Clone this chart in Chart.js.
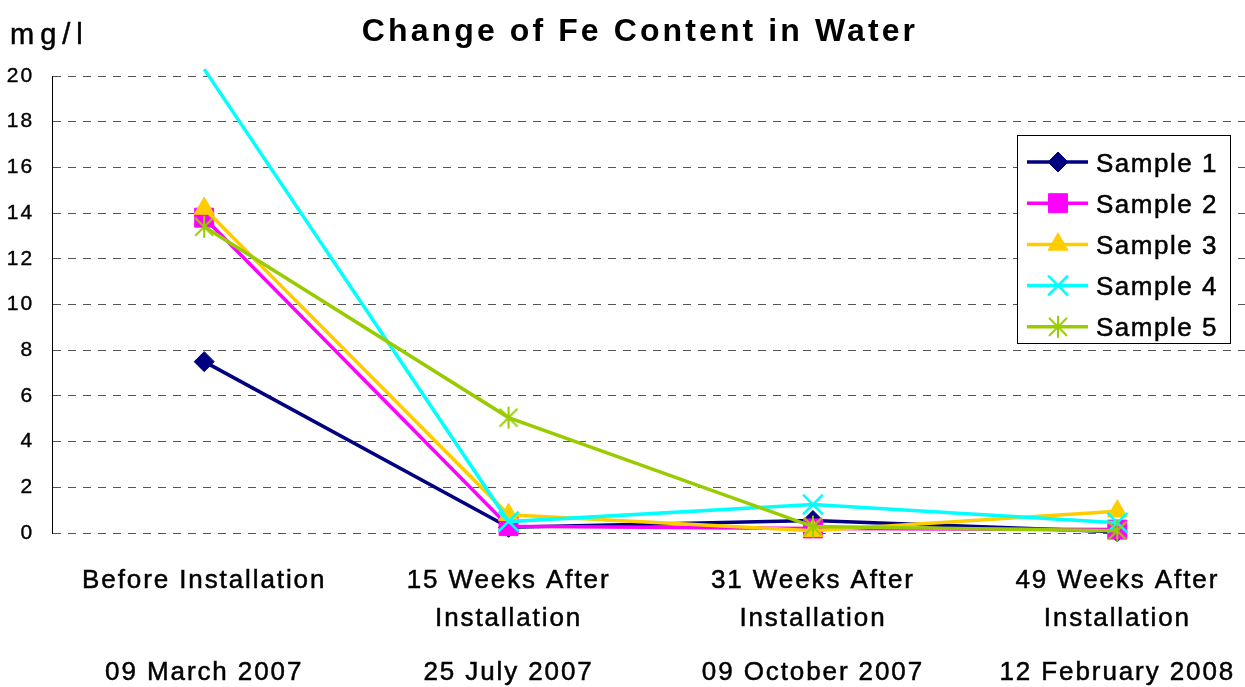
<!DOCTYPE html>
<html><head><meta charset="utf-8">
<script src="https://cdn.jsdelivr.net/npm/chart.js@4/dist/chart.umd.min.js"></script>
<style>
html,body{margin:0;padding:0;background:#fff;overflow:hidden;}
#wrap{width:1245px;height:687px;overflow:hidden;position:relative;background:#fff;}
canvas{display:block;}
</style></head><body>
<div id="wrap"><canvas id="c" width="1286" height="687"></canvas></div>
<script>
// ---- data ----
const categories = [["Before Installation"], ["15 Weeks After", "Installation"], ["31 Weeks After", "Installation"], ["49 Weeks After", "Installation"]];
const dates = ["09 March 2007", "25 July 2007", "09 October 2007", "12 February 2008"];
const seriesNames = ["Sample 1", "Sample 2", "Sample 3", "Sample 4", "Sample 5"];
const sample1 = [7.5, 0.25, 0.55, 0.05];
const sample2 = [13.8, 0.3, 0.2, 0.15];
const sample3 = [14.2, 0.8, 0.1, 0.95];
const sample4 = [20.3, 0.5, 1.25, 0.45];
const sample5 = [13.4, 5.05, 0.28, 0.1];
const yTickValues = [0, 2, 4, 6, 8, 10, 12, 14, 16, 18, 20];
const titleText = "Change of Fe Content in Water";
const unitText = "mg/l";

// ---- styles ----
const FONT = "'Liberation Sans', Arial, sans-serif";
const Y_MAX = 20;
const colors = ["#000080", "#FF00FF", "#FFCC00", "#00FFFF", "#99CC00"];

function makeAsterisk(color) {
  const c = document.createElement('canvas');
  c.width = 22; c.height = 24;
  const x = c.getContext('2d');
  x.strokeStyle = color; x.lineWidth = 2;
  x.beginPath();
  x.moveTo(11, 1); x.lineTo(11, 23);
  x.moveTo(2, 3); x.lineTo(20, 21);
  x.moveTo(20, 3); x.lineTo(2, 21);
  x.stroke();
  return c;
}
const pointStyles = ["rectRot", "rect", "triangle", "crossRot", makeAsterisk(colors[4])];
const pointRadii = [10, 13.4, 11.5, 14, 11];
const pointBorders = [1, 1, 1, 2.5, 1];
const seriesData = [sample1, sample2, sample3, sample4, sample5];

const datasets = seriesData.map((d, i) => ({
  label: seriesNames[i],
  data: d,
  borderColor: colors[i],
  backgroundColor: colors[i],
  pointBackgroundColor: colors[i],
  pointBorderColor: colors[i],
  borderWidth: 3.5,
  pointStyle: pointStyles[i],
  pointRadius: ctx => (ctx.raw > Y_MAX ? 0 : pointRadii[i]),
  pointHoverRadius: ctx => (ctx.raw > Y_MAX ? 0 : pointRadii[i]),
  pointBorderWidth: pointBorders[i],
  tension: 0,
  order: 4 - i,
  clip: 12
}));

function legendPoint(ctx, style, radius, bw, color, x, y) {
  ctx.fillStyle = color; ctx.strokeStyle = color; ctx.lineWidth = bw;
  if (Chart.helpers && Chart.helpers.drawPoint) {
    Chart.helpers.drawPoint(ctx, {pointStyle: style, radius: radius, borderWidth: bw, rotation: 0}, x, y);
  }
}

function heavyText(ctx, text, x, y, w) {
  ctx.lineWidth = w;
  ctx.strokeStyle = '#000';
  ctx.fillText(text, x, y);
  ctx.strokeText(text, x, y);
}

const decorPlugin = {
  id: 'decor',
  beforeDraw(chart) {
    chart.ctx.letterSpacing = '1.9px';
  },
  afterDraw(chart) {
    const ctx = chart.ctx;
    ctx.save();
    // title
    ctx.fillStyle = '#000';
    ctx.letterSpacing = '3.1px';
    ctx.font = "bold 32px " + FONT;
    ctx.textAlign = 'center';
    ctx.textBaseline = 'alphabetic';
    ctx.fillText(titleText, 640, 41);
    // unit
    ctx.letterSpacing = '6px';
    ctx.font = "29px " + FONT;
    ctx.textAlign = 'left';
    heavyText(ctx, unitText, 10, 44, 0.5);
    // legend
    const bx = 1017, by = 135, bw = 213, bh = 208;
    ctx.fillStyle = '#fff';
    ctx.fillRect(bx, by, bw, bh);
    ctx.strokeStyle = '#000'; ctx.lineWidth = 1;
    ctx.strokeRect(bx + 0.5, by + 0.5, bw, bh);
    ctx.letterSpacing = '1.5px';
    ctx.font = "26px " + FONT;
    chart.data.datasets.forEach((ds, i) => {
      const y = 162 + i * 41.2;
      ctx.save();
      ctx.strokeStyle = ds.borderColor; ctx.lineWidth = 3.5;
      ctx.beginPath(); ctx.moveTo(1027, y); ctx.lineTo(1088, y); ctx.stroke();
      legendPoint(ctx, ds.pointStyle, pointRadii[i], pointBorders[i], ds.borderColor, 1058, y);
      ctx.restore();
      ctx.fillStyle = '#000';
      ctx.textAlign = 'left';
      ctx.textBaseline = 'alphabetic';
      heavyText(ctx, ds.label, 1096, y + 9.5, 0.5);
    });
    ctx.restore();
  }
};

Chart.defaults.font.family = FONT;
Chart.defaults.color = '#000';

new Chart(document.getElementById('c'), {
  type: 'line',
  data: { labels: categories, datasets: datasets },
  options: {
    responsive: false,
    animation: false,
    devicePixelRatio: 1,
    layout: { padding: { top: 76, left: 0, right: 5, bottom: 0 } },
    plugins: { legend: { display: false }, title: { display: false }, tooltip: { enabled: false } },
    scales: {
      x: {
        type: 'category',
        position: 'bottom',
        offset: true,
        weight: 0,
        grid: { display: false, drawTicks: false, offset: true },
        border: { display: false },
        ticks: { autoSkip: false, maxRotation: 0, minRotation: 0, padding: 29, color: '#000',
                 textStrokeColor: '#000', textStrokeWidth: 0.5,
                 font: { size: 26, lineHeight: '38px' } },
        afterFit(s) { s.height = 103; }
      },
      x2: {
        type: 'category',
        position: 'bottom',
        offset: true,
        weight: 1,
        labels: dates,
        grid: { display: false, drawTicks: false, offset: true },
        border: { display: false },
        ticks: { autoSkip: false, maxRotation: 0, minRotation: 0, padding: 18, color: '#000',
                 textStrokeColor: '#000', textStrokeWidth: 0.5,
                 font: { size: 26, lineHeight: '38px' } },
        afterFit(s) { s.height = 51; }
      },
      y: {
        min: 0, max: Y_MAX,
        afterBuildTicks(s) { s.ticks = yTickValues.map(v => ({ value: v })); },
        grid: { color: '#555', lineWidth: 1, drawTicks: false },
        border: { display: true, color: '#000', width: 1, dash: [8, 7] },
        ticks: { padding: 18, color: '#000', textStrokeColor: '#000', textStrokeWidth: 0.4, font: { size: 21 } },
        afterFit(s) { s.width = 52; }
      }
    }
  },
  plugins: [decorPlugin]
});
</script>
</body></html>
